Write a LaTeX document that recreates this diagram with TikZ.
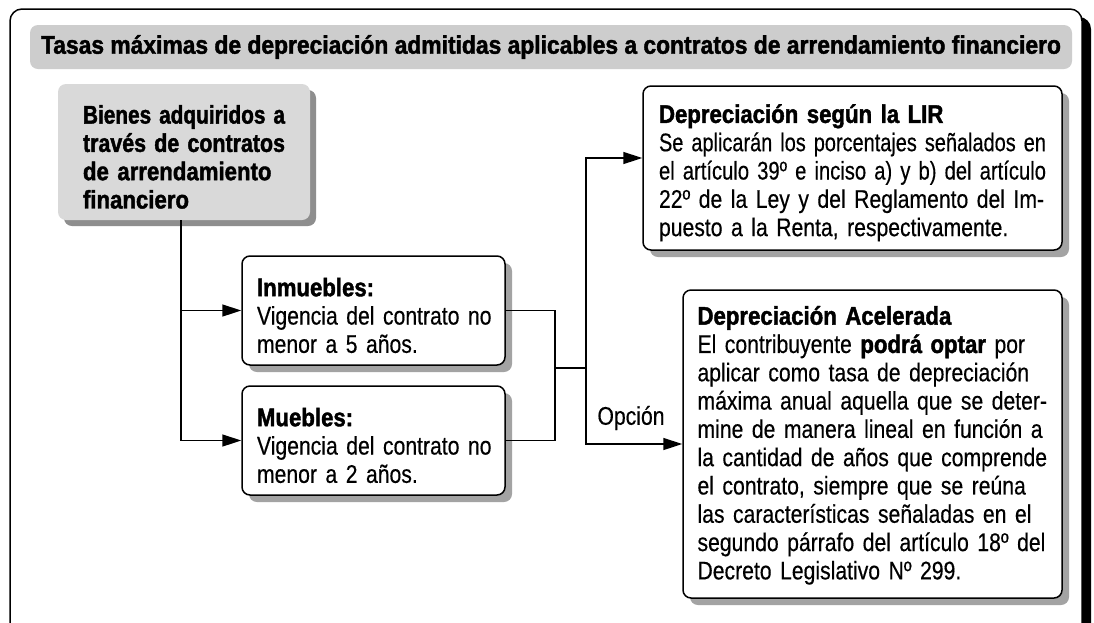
\documentclass[tikz,border=0pt]{standalone}
\usepackage{fontspec}
\setmainfont{Liberation Sans}[FakeStretch=0.83,UprightFeatures={FakeBold=0.4},BoldFeatures={FakeStretch=0.87,FakeBold=1.6}]
\usepackage{graphicx}
\usetikzlibrary{arrows.meta,shadows,calc}
\newsavebox\jlbox
\newcommand\jl[1]{\par\sbox\jlbox{#1}\ifdim\wd\jlbox>\hsize\hbox{\resizebox{\hsize}{\height}{\usebox\jlbox}}\else\hbox to\hsize{\unhbox\jlbox}\fi}
\newcommand\rl[1]{\par\hbox{#1}}
\definecolor{titlegray}{HTML}{CDCDCD}
\definecolor{boxgray}{HTML}{D9D9D9}
\definecolor{shgray}{HTML}{8E8E8E}
\definecolor{wshgray}{HTML}{A3A3A3}
\tikzset{
  body/.style={font=\fontsize{25.5}{28.3}\selectfont},
  wbox/.style={body, draw=black, line width=1.5pt, rounded corners=8pt, fill=white,
    drop shadow={shadow xshift=7pt, shadow yshift=-7pt, fill=wshgray, opacity=1},
    inner xsep=0pt, inner ysep=0pt, align=left},
  gbox/.style={body, fill=boxgray, rounded corners=8pt,
    drop shadow={shadow xshift=6pt, shadow yshift=-6pt, fill=shgray, opacity=1},
    inner xsep=0pt, inner ysep=0pt, align=left},
  ln/.style={line width=1.5pt},
  arr/.style={line width=1.5pt, -{Triangle[length=19pt,width=12pt]}}
}
\begin{document}
\begin{tikzpicture}[x=1pt,y=-1pt]
\useasboundingbox (0,0) rectangle (1094,622);
\begin{scope}
  \clip (0,0) rectangle (1094,622);
  \fill[black, rounded corners=12pt] (19,17) rectangle (1091,670);
  \draw[line width=1.5pt, fill=white, rounded corners=12pt] (10,9) rectangle (1082,670);
\end{scope}

\node[fill=titlegray, rounded corners=8pt, minimum width=1042pt, minimum height=44pt, inner sep=0pt] (title) at (551,47)
  {\resizebox{1020pt}{\height}{\bfseries\fontsize{25.5}{28}\selectfont Tasas máximas de depreciación admitidas aplicables a contratos de arrendamiento financiero}};

\node[gbox, minimum width=252pt, minimum height=136pt, text width=202pt] (bienes) at (184,152)
  {\bfseries\jl{Bienes adquiridos a}\jl{través de contratos}\jl{de arrendamiento}\rl{financiero}};

\node[wbox, minimum width=263pt, minimum height=109pt, text width=233pt] (inm) at (373.5,310.5)
  {\rl{\bfseries Inmuebles:}\rl{Vigencia del contrato no}\rl{menor a 5 años.}};

\node[wbox, minimum width=263pt, minimum height=109pt, text width=233pt] (mue) at (373.5,440.5)
  {\rl{\bfseries Muebles:}\rl{Vigencia del contrato no}\rl{menor a 2 años.}};

\node[wbox, minimum width=419pt, minimum height=164pt, text width=387pt] (lir) at (852.5,168)
  {\rl{\bfseries Depreciación según la LIR}\jl{Se aplicarán los porcentajes señalados en}\jl{el artículo 39º e inciso a) y b) del artículo}\jl{22º de la Ley y del Reglamento del Im-}\rl{puesto a la Renta, respectivamente.}};

\node[wbox, minimum width=379pt, minimum height=308pt, text width=350pt] (acc) at (872.5,444)
  {\rl{\bfseries Depreciación Acelerada}\jl{El contribuyente \textbf{podrá optar} por}\jl{aplicar como tasa de depreciación}\jl{máxima anual aquella que se deter-}\jl{mine de manera lineal en función a}\jl{la cantidad de años que comprende}\jl{el contrato, siempre que se reúna}\jl{las características señaladas en el}\jl{segundo párrafo del artículo 18º del}\rl{Decreto Legislativo Nº 299.}\par\kern7pt};

\node[body, inner sep=0pt] (opc) at (631,418) {Opción};

\coordinate (join) at (555,368);
\coordinate (split) at (586,368);

\draw[arr] ([xshift=-3pt]bienes.south) |- (inm.west);
\draw[arr] ([xshift=-3pt]bienes.south) |- (mue.west);
\draw[ln] (inm.east) -| (join) |- (mue.east);
\draw[ln] (join) -- (split);
\draw[arr] (split) |- ($(lir.west)+(0,-10)$);
\draw[arr] (split) |- (acc.west);
\end{tikzpicture}
\end{document}
